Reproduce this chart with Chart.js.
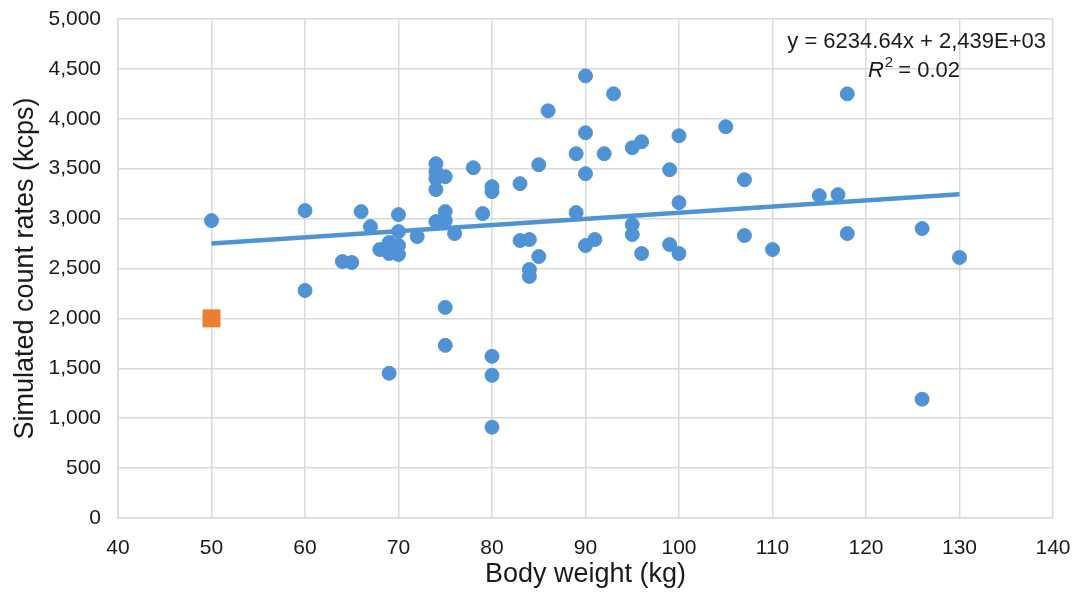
<!DOCTYPE html>
<html>
<head>
<meta charset="utf-8">
<script src="https://cdn.jsdelivr.net/npm/chart.js@4/dist/chart.umd.min.js"></script>
<style>
  html, body { margin: 0; padding: 0; background: #fff; }
  #wrap { width: 1076px; height: 595px; }
</style>
</head>
<body>
<div id="wrap"><canvas id="chart"></canvas></div>
<script>
// measured points (body weight in kg, simulated count rate in kcps)
const bodyWeight = [50, 60, 60, 64, 65, 66, 67, 68, 69, 69, 69, 69, 70, 70, 70, 70, 72,
  74, 74, 74, 74, 74, 75, 75, 75, 75, 75, 76, 78, 79, 80, 80, 80, 80, 80, 83, 83,
  84, 84, 84, 85, 85, 86, 89, 89, 90, 90, 90, 90, 91, 92, 93, 95, 95, 95, 96, 96,
  99, 99, 100, 100, 100, 105, 107, 107, 110, 115, 117, 118, 118, 126, 126, 130]
const countRate = [2980, 3080, 2280, 2570, 2560, 3070, 2920, 2690, 2760, 2670, 2650, 1450,
  3040, 2870, 2730, 2640, 2820, 3550, 3470, 3400, 3290, 2970, 3420, 3070, 2980, 2110, 1730,
  2850, 3510, 3050, 3320, 3270, 1620, 1430, 910, 3350, 2780, 2790, 2490, 2420, 3540, 2620,
  4080, 3650, 3060, 4430, 3860, 3450, 2730, 2790, 3650, 4250, 3710, 2940, 2840, 3770, 2650,
  3490, 2740, 3830, 3160, 2650, 3920, 3390, 2830, 2690, 3230, 3240, 4250, 2850, 2900, 1190, 2610]

// the single highlighted point
const refWeight = [50]
const refRate = [2000]

// linear trend line, end points
const trendX = [50, 130]
const trendY = [2750, 3245]

const xTicks = [40, 50, 60, 70, 80, 90, 100, 110, 120, 130, 140]
const yTicks = [0, 500, 1000, 1500, 2000, 2500, 3000, 3500, 4000, 4500, 5000]

const eqLine = 'y = 6234.64x + 2,439E+03'
const r2Value = ' = 0.02'

const blue = '#4f93d5'
const orange = '#ed7d31'
const gridColor = '#d9d9d9'
const textColor = '#1a1a1a'
const font = "'Liberation Sans', Arial, sans-serif"

function toPoints(xs, ys) {
  return xs.map((x, i) => ({ x: x, y: ys[i] }))
}

// fixed axis sizes, and no extra room for labels hanging over the ends
function fixSize(width, height) {
  return (scale) => {
    if (width) scale.width = width
    if (height) scale.height = height
    scale.paddingLeft = 0
    scale.paddingRight = 0
    scale.paddingTop = 0
    scale.paddingBottom = 0
  }
}

// draws the trend equation and R² in the top right corner
const equationLabel = {
  id: 'equationLabel',
  afterDraw(chart) {
    let ctx = chart.ctx
    ctx.save()
    ctx.fillStyle = textColor
    ctx.textBaseline = 'alphabetic'
    ctx.font = '22px ' + font
    ctx.textAlign = 'right'
    ctx.fillText(eqLine, 1046, 48)

    // R² line, centred under the equation
    ctx.font = 'italic 22px ' + font
    let rW = ctx.measureText('R').width
    ctx.font = '15px ' + font
    let supW = ctx.measureText('2').width
    ctx.font = '22px ' + font
    let restW = ctx.measureText(r2Value).width
    let x0 = 914 - (rW + supW + restW) / 2
    ctx.textAlign = 'left'
    ctx.font = 'italic 22px ' + font
    ctx.fillText('R', x0, 77)
    ctx.font = '15px ' + font
    ctx.fillText('2', x0 + rW + 1, 67)
    ctx.font = '22px ' + font
    ctx.fillText(r2Value, x0 + rW + supW, 77)
    ctx.restore()
  }
}

let config = {
  type: 'scatter',
  data: {
    datasets: [
      {
        label: 'trend',
        type: 'line',
        data: toPoints(trendX, trendY),
        borderColor: blue,
        borderWidth: 4.5,
        pointRadius: 0,
        fill: false,
        order: 3
      },
      {
        label: 'count rate',
        data: toPoints(bodyWeight, countRate),
        backgroundColor: blue,
        borderColor: blue,
        pointRadius: 7,
        pointHoverRadius: 7,
        order: 2
      },
      {
        label: 'reference',
        data: toPoints(refWeight, refRate),
        pointStyle: 'rect',
        backgroundColor: orange,
        borderColor: orange,
        pointRadius: 12,
        pointHoverRadius: 12,
        order: 1
      }
    ]
  },
  options: {
    animation: false,
    responsive: true,
    maintainAspectRatio: false,
    layout: {
      padding: { top: 19, right: 23, left: 0, bottom: 0 }
    },
    plugins: {
      legend: { display: false },
      tooltip: { enabled: false }
    },
    scales: {
      x: {
        type: 'linear',
        min: 40,
        max: 140,
        afterBuildTicks: (scale) => { scale.ticks = xTicks.map(v => ({ value: v })) },
        afterFit: fixSize(0, 77),
        grid: { color: gridColor, lineWidth: 1.5, drawTicks: false },
        border: { color: gridColor, width: 1.5 },
        ticks: {
          color: textColor,
          padding: 18,
          font: { family: font, size: 21 }
        },
        title: {
          display: true,
          text: 'Body weight (kg)',
          color: textColor,
          padding: { top: 4 },
          font: { family: font, size: 27 }
        }
      },
      y: {
        type: 'linear',
        min: 0,
        max: 5000,
        afterBuildTicks: (scale) => { scale.ticks = yTicks.map(v => ({ value: v })) },
        afterFit: fixSize(118, 0),
        grid: { color: gridColor, lineWidth: 1.5, drawTicks: false },
        border: { color: gridColor, width: 1.5 },
        ticks: {
          color: textColor,
          padding: 17,
          font: { family: font, size: 21 },
          callback: (v) => v.toLocaleString('en-US')
        },
        title: {
          display: true,
          text: 'Simulated count rates (kcps)',
          color: textColor,
          padding: { top: 9, bottom: 0 },
          font: { family: font, size: 27 }
        }
      }
    }
  },
  plugins: [equationLabel]
}

new Chart(document.getElementById('chart').getContext('2d'), config)
</script>
</body>
</html>
